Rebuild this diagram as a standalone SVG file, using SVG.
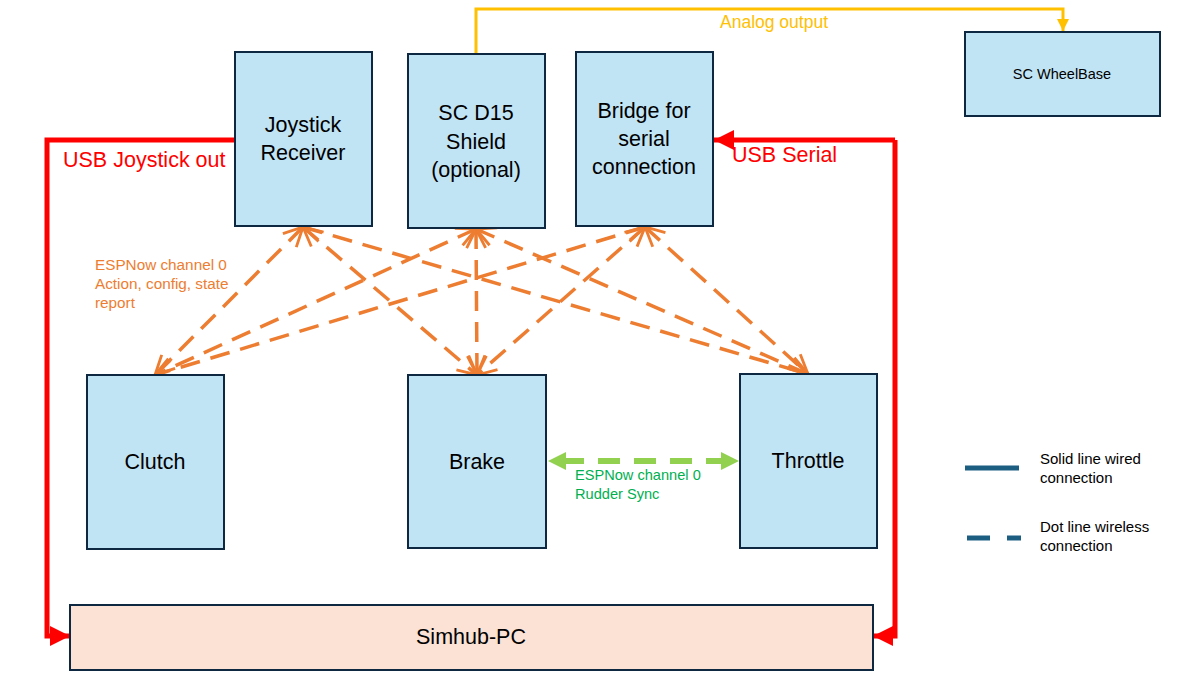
<svg xmlns="http://www.w3.org/2000/svg" width="1178" height="680" viewBox="0 0 1178 680">
<style>
.box{fill:#c1e4f5;stroke:#0e2841;stroke-width:2}
.pc{fill:#fbe2d5;stroke:#0e2841;stroke-width:2}
.t{font-family:"Liberation Sans",Arial,sans-serif;fill:#000;text-anchor:middle;font-size:21.5px}
.ts{font-family:"Liberation Sans",Arial,sans-serif;fill:#000;text-anchor:middle;font-size:14.5px}
.wl{fill:none;stroke:#ed7d31;stroke-width:3.5;stroke-dasharray:20 11;marker-start:url(#oa);marker-end:url(#oa)}
.red{fill:none;stroke:#ff0000;stroke-width:5}
.lab{font-family:"Liberation Sans",Arial,sans-serif}
</style>
<defs>
<marker id="oa" viewBox="0 0 12 12" refX="11" refY="6" markerWidth="6.5" markerHeight="6.5" markerUnits="strokeWidth" orient="auto-start-reverse">
<path d="M1,1 L11,6 L1,11" fill="none" stroke="#ed7d31" stroke-width="1.5"/>
</marker>
<marker id="ra" viewBox="0 0 10 10" refX="10" refY="5" markerWidth="4" markerHeight="4" orient="auto">
<path d="M0,0 L10,5 L0,10 z" fill="#ff0000"/>
</marker>
<marker id="ya" viewBox="0 0 10 10" refX="10" refY="5" markerWidth="4" markerHeight="4" orient="auto">
<path d="M0,0 L10,5 L0,10 z" fill="#ffc000"/>
</marker>
<marker id="ga" viewBox="0 0 10 10" refX="10" refY="5" markerWidth="3" markerHeight="3" orient="auto-start-reverse">
<path d="M0,0 L10,5 L0,10 z" fill="#92d050"/>
</marker>
</defs>
<rect width="1178" height="680" fill="#fff"/>

<g id="connectors">
<polyline class="red" points="235,140 47,140 47,636 70,636" marker-end="url(#ra)"/>
<polyline class="red" points="895,140 895,636 873,636" marker-end="url(#ra)"/>
<polyline class="red" points="895,140 714,140" marker-end="url(#ra)"/>
<polyline fill="none" stroke="#ffc000" stroke-width="3" points="476,54 476,9 1063,9 1063,31" marker-end="url(#ya)"/>
<line class="wl" x1="303" y1="227" x2="155" y2="375"/>
<line class="wl" x1="303" y1="227" x2="477" y2="375"/>
<line class="wl" x1="303" y1="227" x2="808" y2="374"/>
<line class="wl" x1="476" y1="229" x2="155" y2="375"/>
<line class="wl" x1="476" y1="229" x2="477" y2="375"/>
<line class="wl" x1="476" y1="229" x2="808" y2="374"/>
<line class="wl" x1="645" y1="227" x2="155" y2="375"/>
<line class="wl" x1="645" y1="227" x2="477" y2="375"/>
<line class="wl" x1="645" y1="227" x2="808" y2="374"/>
<line x1="548" y1="461" x2="739" y2="461" stroke="#92d050" stroke-width="6" stroke-dasharray="22 14" stroke-dashoffset="-14" marker-start="url(#ga)" marker-end="url(#ga)"/>
</g>

<g id="labels" class="lab">
<text x="63" y="167" font-size="21.5" fill="#ff0000">USB Joystick out</text>
<text x="732" y="162" font-size="21.5" fill="#ff0000">USB Serial</text>
<text x="720" y="28" font-size="17.5" fill="#ffc000">Analog output</text>
<text font-size="15.3" fill="#ed7d31"><tspan x="95" y="270">ESPNow channel 0</tspan><tspan x="95" y="289">Action, config, state</tspan><tspan x="95" y="308">report</tspan></text>
<text font-size="14.6" fill="#00b050"><tspan x="575" y="480">ESPNow channel 0</tspan><tspan x="575" y="499">Rudder Sync</tspan></text>
</g>

<g id="joystick"><rect class="box" x="235" y="52" width="137" height="174"/><text class="t"><tspan x="303" y="132">Joystick</tspan><tspan x="303" y="160">Receiver</tspan></text></g>
<g id="d15"><rect class="box" x="408" y="54" width="137" height="174"/><text class="t"><tspan x="476" y="120">SC D15</tspan><tspan x="476" y="149">Shield</tspan><tspan x="476" y="177">(optional)</tspan></text></g>
<g id="bridge"><rect class="box" x="576" y="52" width="137" height="174"/><text class="t"><tspan x="644" y="118">Bridge for</tspan><tspan x="644" y="146">serial</tspan><tspan x="644" y="174">connection</tspan></text></g>
<g id="wheelbase"><rect class="box" x="965" y="32" width="195" height="84"/><text class="ts" x="1062" y="79">SC WheelBase</text></g>
<g id="clutch"><rect class="box" x="87" y="375" width="137" height="174"/><text class="t" x="155" y="469">Clutch</text></g>
<g id="brake"><rect class="box" x="408" y="375" width="138" height="173"/><text class="t" x="477" y="469">Brake</text></g>
<g id="throttle"><rect class="box" x="740" y="374" width="137" height="174"/><text class="t" x="808" y="468">Throttle</text></g>
<g id="simhub"><rect class="pc" x="70" y="605" width="803" height="65"/><text class="t" x="471" y="644">Simhub-PC</text></g>

<g id="legend" class="lab">
<line x1="965" y1="468" x2="1019" y2="468" stroke="#1b5e82" stroke-width="5"/>
<line x1="967" y1="538" x2="990" y2="538" stroke="#1b5e82" stroke-width="5"/>
<line x1="1007" y1="538" x2="1021" y2="538" stroke="#1b5e82" stroke-width="5"/>
<text font-size="15" fill="#000"><tspan x="1040" y="464">Solid line wired</tspan><tspan x="1040" y="483">connection</tspan></text>
<text font-size="15" fill="#000"><tspan x="1040" y="532">Dot line wireless</tspan><tspan x="1040" y="551">connection</tspan></text>
</g>
</svg>
